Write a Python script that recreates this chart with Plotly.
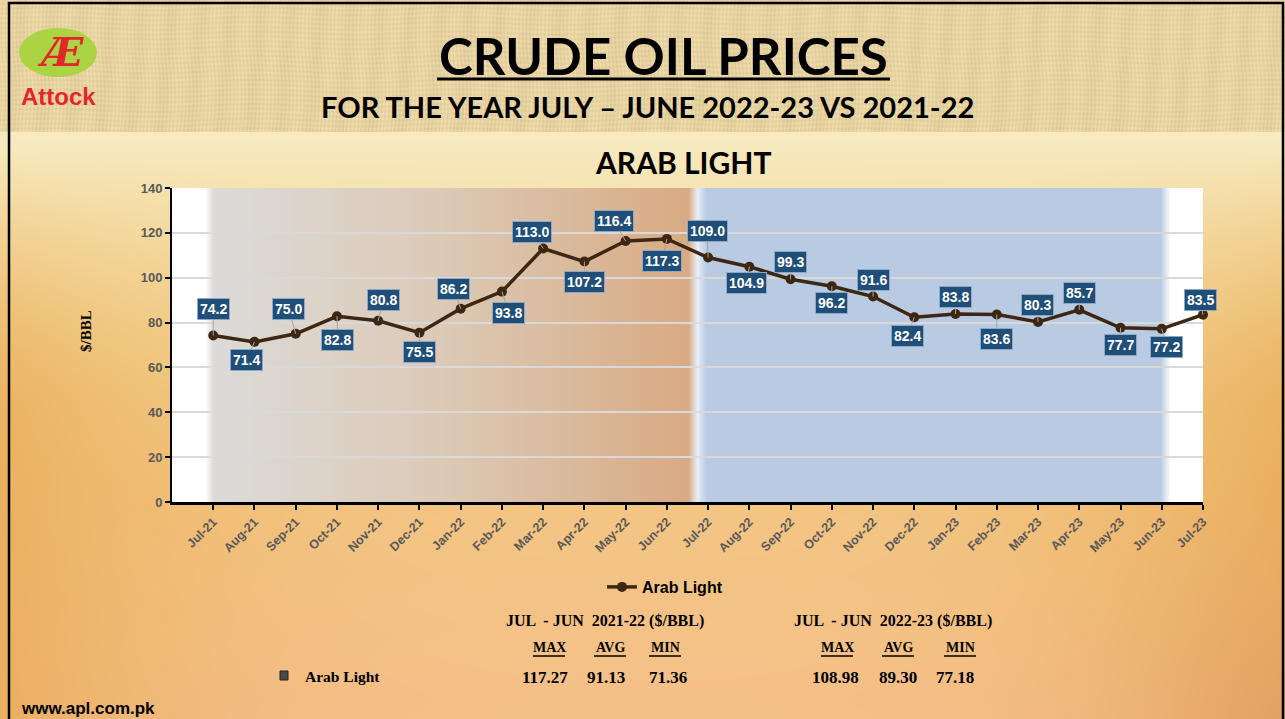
import base64
import struct
import zlib

import numpy as np
import plotly.graph_objects as go

# ---------------- data ----------------
months = ["Jul-21", "Aug-21", "Sep-21", "Oct-21", "Nov-21", "Dec-21", "Jan-22", "Feb-22",
          "Mar-22", "Apr-22", "May-22", "Jun-22", "Jul-22", "Aug-22", "Sep-22", "Oct-22",
          "Nov-22", "Dec-22", "Jan-23", "Feb-23", "Mar-23", "Apr-23", "May-23", "Jun-23",
          "Jul-23"]
arab_light = [74.2, 71.4, 75.0, 82.8, 80.8, 75.5, 86.2, 93.8, 113.0, 107.2, 116.4, 117.3,
              109.0, 104.9, 99.3, 96.2, 91.6, 82.4, 83.8, 83.6, 80.3, 85.7, 77.7, 77.2, 83.5]
y_ticks = [0, 20, 40, 60, 80, 100, 120, 140]

period_titles = ["JUL  - JUN  2021-22 ($/BBL)", "JUL  - JUN  2022-23 ($/BBL)"]
stat_names = ["MAX", "AVG", "MIN"]
stats_2021_22 = [117.27, 91.13, 71.36]
stats_2022_23 = [108.98, 89.30, 77.18]

# label placement (pixel offsets of each data label box from its point) - styling only
label_offsets = [(0, -27), (-8, 18), (-7, -25), (1, 24), (5, -21), (0, 19), (-7, -20), (7, 21),
                 (-11, -17), (0, 20), (-12, -20), (-5, 22), (-1, -27), (-3, 16), (0, -17),
                 (0, 17), (0, -17), (-7, 19), (0, -17), (0, 24), (-1, -17), (0, -17), (0, 17),
                 (5, 18), (-3, -15)]

# ---------------- geometry helpers ----------------
W, H = 1285, 719
L, R, T, B = 172, 1203, 188, 502


def fx(px):
    return (px - L) / (R - L)


def fy(py):
    return (B - py) / (B - T)


def hexrgb(h):
    h = h.lstrip("#")
    return np.array([int(h[i:i + 2], 16) for i in (0, 2, 4)], dtype=float)


def png_uri(arr):
    arr = np.clip(arr, 0, 255).astype(np.uint8)
    h, w, _ = arr.shape
    sub = arr.astype(np.int16)
    sub[:, 1:, :] -= arr[:, :-1, :].astype(np.int16)
    sub = (sub % 256).astype(np.uint8)
    raw = b"".join(b"\x01" + sub[y].tobytes() for y in range(h))

    def chunk(t, d):
        c = struct.pack(">I", len(d)) + t + d
        return c + struct.pack(">I", zlib.crc32(t + d) & 0xFFFFFFFF)

    png = (b"\x89PNG\r\n\x1a\n" + chunk(b"IHDR", struct.pack(">IIBBBBB", w, h, 8, 2, 0, 0, 0))
           + chunk(b"IDAT", zlib.compress(raw, 9)) + chunk(b"IEND", b""))
    return "data:image/png;base64," + base64.b64encode(png).decode()


def interp_colors(pos, stops):
    xs = [s[0] for s in stops]
    cols = np.array([hexrgb(s[1]) for s in stops])
    return np.stack([np.interp(pos, xs, cols[:, c]) for c in range(3)], axis=-1)


# ---------------- page background image ----------------
yy, xx = np.mgrid[0:H, 0:W].astype(float)
body = interp_colors(yy[:, 0], [(0, "#f8ebc2"), (132, "#f8ebc2"), (200, "#f6e3b0"),
                                (330, "#f4d494"), (480, "#f3c682"), (719, "#f5c08a")])
bg = np.repeat(body[:, None, :], W, axis=1)
edge = hexrgb("#e8a850")
wx = (np.abs(xx - 640) / 640.0) ** 3
sy = np.clip((yy - 150) / 250.0, 0, 1) * 0.7
k = (wx * sy)[..., None]
bg = bg * (1 - k) + edge * k
rr = np.hypot(xx - W, yy - H) / 320.0
k2 = (np.clip(1 - rr, 0, 1) ** 2 * 0.5)[..., None]
bg = bg * (1 - k2) + hexrgb("#d9946a") * k2
# textured header band
hdr = yy < 132
tex = (5 * np.sin(xx * 1.7 + 3 * np.sin(yy * 0.05)) + 4 * np.sin(yy * 1.3 + 2 * np.sin(xx * 0.031))
       + 3 * np.sin(xx * 0.21 + yy * 0.02))
head = hexrgb("#e7d3a2")[None, None, :] + tex[..., None]
bg = np.where(hdr[..., None], head, bg)
page_uri = png_uri(bg)

# ---------------- plot-area shading image ----------------
pw = R - L
cols_px = np.arange(pw) + L
panel = interp_colors(cols_px, [(L, "#ffffff"), (205, "#ffffff"), (213, "#dcdbd9"),
                                (450, "#dcc9b5"), (688, "#d9ab84"), (697, "#e8eef6"),
                                (706, "#b8cbe3"), (1160, "#b8cbe3"), (1170, "#ffffff"),
                                (R, "#ffffff")])
panel_img = np.repeat(panel[None, :, :], 2, axis=0)
panel_uri = png_uri(panel_img)

# ---------------- figure ----------------
idx = list(range(len(months)))
line_col = "#3d2612"

fig = go.Figure()
fig.add_trace(go.Scatter(
    x=idx, y=arab_light, mode="lines+markers", name="Arab Light",
    line=dict(color=line_col, width=3.5), marker=dict(color=line_col, size=10),
    cliponaxis=False, hoverinfo="x+y"))

annotations = []
for i, (v, (dx, dy)) in enumerate(zip(arab_light, label_offsets)):
    annotations.append(dict(
        x=i, y=v, xref="x", yref="y", text=f"<b>{v:.1f}</b>", showarrow=True,
        arrowhead=0, arrowwidth=1, arrowcolor="#a6a6a6", ax=dx, ay=dy, standoff=0,
        font=dict(family="Liberation Sans, Arial, sans-serif", size=14, color="white"),
        bgcolor="#1f4e79", bordercolor="#8ea9c8", borderwidth=1, borderpad=2))


def ann(text, px, py, size, family, color="black", xanchor="center", angle=0):
    annotations.append(dict(
        x=fx(px), y=fy(py), xref="paper", yref="paper", text=text, showarrow=False,
        xanchor=xanchor, yanchor="middle", textangle=angle,
        font=dict(family=family, size=size, color=color, weight=900)))


SANS = "Liberation Sans, Arial, sans-serif"
SERIF = "Liberation Serif, Times New Roman, serif"
HEAD = "Lato, Open Sans, sans-serif"

ann("<b>CRUDE OIL PRICES</b>", 663, 55, 51, HEAD)
ann("<b>FOR THE YEAR JULY – JUNE 2022-23 VS 2021-22</b>", 647, 107, 29, HEAD)
ann("<b>ARAB LIGHT</b>", 683, 162, 30, HEAD)
ann("<b>$/BBL</b>", 86, 331, 15, SERIF, angle=-90)

# logo
ann("<b><i>Æ</i></b>", 60, 51, 40, "DejaVu Serif, serif", color="#e3262b")
ann("<b>Attock</b>", 58, 96, 24, SANS, color="#e3262b")

# summary table
ann(f"<b>{period_titles[0]}</b>", 605, 621, 16, SERIF)
ann(f"<b>{period_titles[1]}</b>", 893, 621, 16, SERIF)
name_x1 = [549, 610, 665]
name_x2 = [837, 898, 960]
val_x1 = [545, 606, 668]
val_x2 = [835, 898, 955]
for n, a, b in zip(stat_names, name_x1, name_x2):
    ann(f"<b>{n}</b>", a, 647, 14, SERIF)
    ann(f"<b>{n}</b>", b, 647, 14, SERIF)
for v, a in zip(stats_2021_22, val_x1):
    ann(f"<b>{v:.2f}</b>", a, 677, 17, SERIF)
for v, a in zip(stats_2022_23, val_x2):
    ann(f"<b>{v:.2f}</b>", a, 677, 17, SERIF)
ann("<b>Arab Light</b>", 303, 676, 15.5, SERIF, xanchor="left")
ann("<b>www.apl.com.pk</b>", 19, 708, 17, SANS, xanchor="left")

shapes = []
# page border
shapes.append(dict(type="rect", xref="paper", yref="paper", x0=fx(9), x1=fx(1283), y0=fy(3),
                   y1=fy(730), line=dict(color="black", width=2.5), layer="above"))
# title underline
shapes.append(dict(type="line", xref="paper", yref="paper", x0=fx(437), x1=fx(890), y0=fy(79),
                   y1=fy(79), line=dict(color="black", width=3)))
# stat name underlines
for xs in (name_x1, name_x2):
    for a in xs:
        shapes.append(dict(type="line", xref="paper", yref="paper", x0=fx(a - 16), x1=fx(a + 16),
                           y0=fy(656), y1=fy(656), line=dict(color="black", width=1.5)))
# legend square in table
shapes.append(dict(type="rect", xref="paper", yref="paper", x0=fx(280), x1=fx(288), y0=fy(680),
                   y1=fy(671), fillcolor="#4a4a4a", line=dict(color="#222", width=1)))
# logo ellipse
shapes.append(dict(type="circle", xref="paper", yref="paper", x0=fx(19), x1=fx(97), y0=fy(77),
                   y1=fy(28), fillcolor="#abd344", line=dict(width=0), layer="below"))

images = [
    dict(source=page_uri, xref="paper", yref="paper", x=fx(0), y=fy(0), sizex=W / pw,
         sizey=H / (B - T), xanchor="left", yanchor="top", sizing="stretch", layer="below"),
    dict(source=panel_uri, xref="x", yref="y", x=-1, y=140, sizex=25, sizey=140,
         xanchor="left", yanchor="top", sizing="stretch", layer="below"),
]

fig.update_layout(
    width=W, height=H,
    margin=dict(l=L, r=W - R, t=T, b=H - B, pad=0),
    paper_bgcolor="#f4d494", plot_bgcolor="white",
    showlegend=True,
    legend=dict(orientation="h", x=fx(665), y=fy(587), xanchor="center", yanchor="middle",
                bgcolor="rgba(0,0,0,0)",
                font=dict(family="Liberation Sans Narrow, Arial Narrow, Liberation Sans, sans-serif",
                          size=16, color="black", weight="bold")),
    xaxis=dict(range=[-1, 24], tickmode="array", tickvals=idx, ticktext=months, tickangle=-45,
               showgrid=False, zeroline=False, showline=True, linecolor="black", linewidth=2.5,
               ticks="outside", ticklen=5, tickcolor="black", tickwidth=1.5,
               tickfont=dict(family=SANS, size=12.5, color="#595959", weight="bold")),
    yaxis=dict(range=[0, 140], tickmode="array", tickvals=y_ticks, showgrid=True,
               gridcolor="#d9d9d9", gridwidth=1.5, zeroline=False, showline=True,
               linecolor="black", linewidth=2, ticks="outside", ticklen=5, tickcolor="black",
               tickwidth=1.5,
               tickfont=dict(family=SANS, size=13, color="#595959", weight="bold")),
    annotations=annotations, shapes=shapes, images=images,
)

fig.write_html("out.html", config={"displayModeBar": False},
               post_script="document.body.style.margin='0px';document.body.style.overflow='hidden';")
